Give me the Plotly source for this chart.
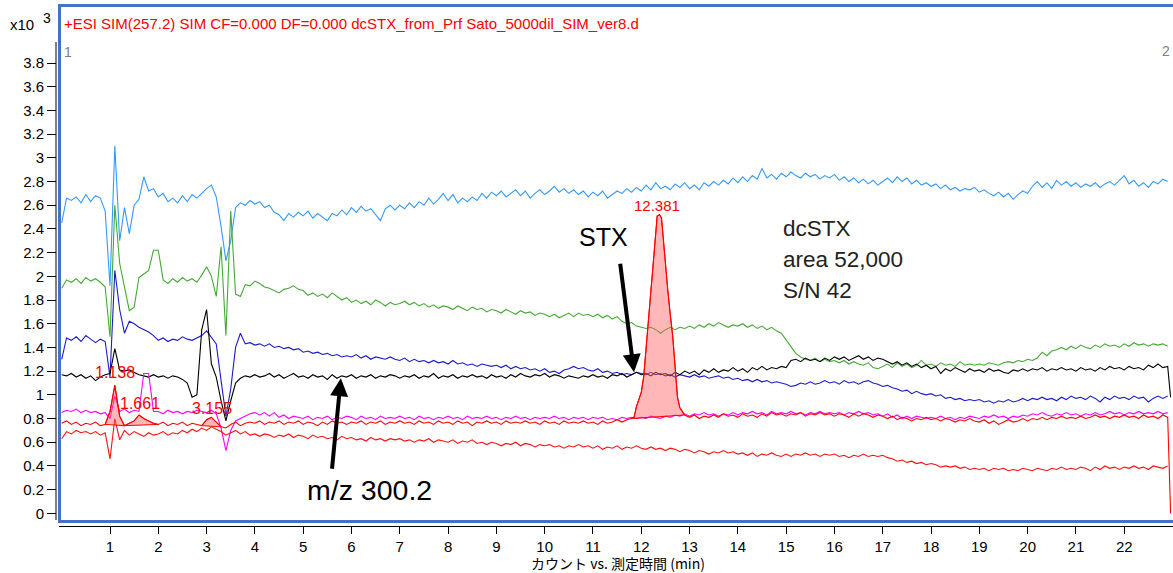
import numpy as np
import plotly.graph_objects as go

# ---------------- data (counts x10^3 vs. acquisition time, min) ----------------
t_step = 0.1
n_pts = 230          # 0.0 ... 22.9 min
t_end = 22.96        # last acquired point (trace end)

light_blue = [
    2.45, 2.66, 2.64, 2.67, 2.62, 2.69, 2.63, 2.68, 2.66, 2.55,
    1.92, 3.10, 2.30, 2.58, 2.36, 2.60, 2.65, 2.84, 2.72, 2.74,
    2.67, 2.70, 2.63, 2.66, 2.62, 2.68, 2.63, 2.69, 2.66, 2.70,
    2.74, 2.77, 2.67, 2.42, 2.13, 2.30, 2.58, 2.62, 2.60, 2.64,
    2.61, 2.63, 2.58, 2.60, 2.54, 2.52, 2.47, 2.53, 2.50, 2.54,
    2.51, 2.55, 2.49, 2.53, 2.50, 2.47, 2.53, 2.51, 2.56, 2.52,
    2.58, 2.54, 2.59, 2.55, 2.57, 2.52, 2.47, 2.57, 2.60, 2.56,
    2.60, 2.57, 2.62, 2.58, 2.63, 2.60, 2.66, 2.61, 2.65, 2.70,
    2.64, 2.69, 2.62, 2.66, 2.63, 2.67, 2.64, 2.70, 2.66, 2.71,
    2.68, 2.72, 2.67, 2.70, 2.73, 2.68, 2.72, 2.66, 2.70, 2.73,
    2.69, 2.72, 2.76, 2.71, 2.74, 2.70, 2.73, 2.69, 2.72, 2.67,
    2.71, 2.68, 2.72, 2.66, 2.69, 2.72, 2.70, 2.74, 2.71, 2.75,
    2.72, 2.77, 2.73, 2.79, 2.74, 2.76, 2.73, 2.78, 2.75, 2.79,
    2.74, 2.77, 2.73, 2.79, 2.76, 2.80, 2.77, 2.81, 2.78, 2.83,
    2.79, 2.84, 2.80, 2.85, 2.82, 2.91, 2.83, 2.86, 2.82, 2.87,
    2.84, 2.88, 2.85, 2.83, 2.87, 2.84, 2.86, 2.82, 2.85, 2.83,
    2.86, 2.81, 2.84, 2.80, 2.83, 2.79, 2.82, 2.78, 2.81, 2.77,
    2.80, 2.83, 2.79, 2.84, 2.80, 2.83, 2.78, 2.81, 2.77, 2.79,
    2.76, 2.78, 2.74, 2.77, 2.73, 2.75, 2.72, 2.74, 2.73, 2.75,
    2.71, 2.73, 2.70, 2.68, 2.71, 2.67, 2.70, 2.65, 2.69, 2.72,
    2.70, 2.76, 2.80, 2.75, 2.79, 2.74, 2.81, 2.77, 2.80, 2.76,
    2.79, 2.75, 2.78, 2.76, 2.79, 2.75, 2.78, 2.80, 2.77, 2.81,
    2.85, 2.78, 2.81, 2.76, 2.79, 2.75, 2.80, 2.78, 2.82, 2.80,
]

green = [
    1.90, 1.97, 1.95, 1.98, 1.94, 1.99, 1.96, 1.98, 1.95, 1.91,
    1.49, 2.60, 2.11, 1.90, 1.71, 1.74, 1.99, 2.02, 2.05, 2.22,
    2.22, 1.97, 1.94, 1.98, 1.95, 1.99, 1.96, 1.98, 1.95, 2.01,
    2.08, 2.00, 1.83, 2.25, 1.50, 2.55, 1.85, 1.83, 1.93, 1.92,
    1.96, 1.94, 1.91, 1.90, 1.88, 1.86, 1.89, 1.90, 1.92, 1.89,
    1.88, 1.84, 1.86, 1.83, 1.85, 1.82, 1.86, 1.83, 1.80, 1.82,
    1.78, 1.80, 1.77, 1.79, 1.76, 1.80, 1.78, 1.75, 1.78, 1.76,
    1.77, 1.79, 1.76, 1.78, 1.75, 1.77, 1.74, 1.76, 1.73, 1.75,
    1.74, 1.72, 1.75, 1.73, 1.71, 1.74, 1.72, 1.73, 1.70, 1.72,
    1.71, 1.69, 1.72, 1.70, 1.68, 1.71, 1.69, 1.70, 1.67, 1.69,
    1.68, 1.66, 1.68, 1.65, 1.67, 1.69, 1.66, 1.69, 1.67, 1.68,
    1.66, 1.68, 1.65, 1.67, 1.64, 1.66, 1.62, 1.60, 1.61, 1.58,
    1.57, 1.56, 1.57, 1.55, 1.52, 1.55, 1.57, 1.55, 1.57, 1.56,
    1.58, 1.56, 1.59, 1.57, 1.60, 1.58, 1.61, 1.59, 1.57, 1.59,
    1.58, 1.60, 1.57, 1.59, 1.56, 1.58, 1.55, 1.57, 1.54, 1.52,
    1.46, 1.40, 1.35, 1.32, 1.30, 1.29, 1.31, 1.28, 1.30, 1.28,
    1.29, 1.27, 1.29, 1.26, 1.28, 1.26, 1.25, 1.27, 1.23, 1.22,
    1.24, 1.26, 1.23, 1.27, 1.24, 1.26, 1.23, 1.25, 1.29, 1.25,
    1.26, 1.24, 1.27, 1.25, 1.26, 1.24, 1.28, 1.25, 1.26, 1.25,
    1.26, 1.25, 1.27, 1.26, 1.25, 1.27, 1.28, 1.27, 1.29, 1.28,
    1.30, 1.29, 1.31, 1.36, 1.33, 1.37, 1.38, 1.40, 1.38, 1.41,
    1.39, 1.42, 1.40, 1.39, 1.42, 1.40, 1.43, 1.41, 1.42, 1.40,
    1.43, 1.41, 1.44, 1.42, 1.43, 1.41, 1.43, 1.42, 1.43, 1.41,
]

blue = [
    1.30, 1.48, 1.46, 1.49, 1.45, 1.50, 1.47, 1.44, 1.47, 1.45,
    1.15, 2.05, 1.72, 1.52, 1.62, 1.60, 1.57, 1.55, 1.53, 1.50,
    1.46, 1.48, 1.45, 1.47, 1.46, 1.49, 1.47, 1.46, 1.48, 1.50,
    1.54, 1.48, 1.43, 1.12, 0.82, 1.05, 1.40, 1.52, 1.43, 1.44,
    1.42, 1.43, 1.41, 1.43, 1.40, 1.41, 1.39, 1.40, 1.38, 1.39,
    1.36, 1.37, 1.35, 1.36, 1.34, 1.35, 1.33, 1.34, 1.32, 1.33,
    1.32, 1.34, 1.31, 1.33, 1.30, 1.32, 1.31, 1.30, 1.32, 1.30,
    1.29, 1.31, 1.28, 1.30, 1.28, 1.29, 1.27, 1.29, 1.27, 1.28,
    1.26, 1.29, 1.26, 1.27, 1.25, 1.26, 1.24, 1.26, 1.25, 1.24,
    1.25, 1.23, 1.25, 1.22, 1.24, 1.22, 1.23, 1.21, 1.22, 1.20,
    1.22, 1.19, 1.20, 1.18, 1.21, 1.22, 1.24, 1.22, 1.23, 1.21,
    1.20, 1.22, 1.19, 1.20, 1.18, 1.19, 1.17, 1.18, 1.17, 1.19,
    1.18, 1.17, 1.19, 1.17, 1.18, 1.16, 1.17, 1.15, 1.17, 1.16,
    1.15, 1.17, 1.15, 1.16, 1.14, 1.15, 1.16, 1.14, 1.15, 1.13,
    1.14, 1.12, 1.13, 1.11, 1.13, 1.11, 1.12, 1.10, 1.11, 1.10,
    1.09, 1.07, 1.08, 1.10, 1.09, 1.11, 1.09, 1.10, 1.12, 1.10,
    1.11, 1.09, 1.12, 1.10, 1.11, 1.09, 1.11, 1.12, 1.10, 1.09,
    1.07, 1.08, 1.06, 1.05, 1.03, 1.04, 1.01, 1.03, 1.01, 1.00,
    1.01, 0.99, 1.00, 0.97, 0.98, 0.96, 0.97, 0.95, 0.96, 0.95,
    0.96, 0.94, 0.95, 0.93, 0.95, 0.94, 0.96, 0.94, 0.95, 0.97,
    0.95, 0.97, 0.96, 0.98, 0.96, 0.97, 0.95, 0.98, 0.96, 0.99,
    0.97, 0.98, 0.96, 0.99, 0.97, 0.94, 0.98, 0.96, 0.99, 0.97,
    0.98, 0.96, 0.99, 0.97, 0.98, 0.94, 0.97, 0.99, 0.97, 0.99,
]

black = [
    1.17, 1.16, 1.18, 1.15, 1.17, 1.14, 1.16, 1.12, 1.15, 1.17,
    1.18, 1.39, 1.21, 1.20, 1.21, 1.19, 1.17, 1.16, 1.15, 1.17,
    1.15, 1.16, 1.14, 1.16, 1.15, 1.13, 1.10, 0.98, 1.00, 1.55,
    1.72, 1.26, 1.15, 0.95, 0.78, 0.95, 1.10, 1.14, 1.16, 1.15,
    1.17, 1.15, 1.16, 1.18, 1.15, 1.17, 1.14, 1.16, 1.18, 1.15,
    1.16, 1.14, 1.17, 1.15, 1.16, 1.13, 1.17, 1.14, 1.16, 1.15,
    1.17, 1.14, 1.16, 1.15, 1.17, 1.14, 1.16, 1.15, 1.17, 1.16,
    1.14, 1.16, 1.15, 1.17, 1.14, 1.16, 1.15, 1.18, 1.14, 1.16,
    1.15, 1.17, 1.14, 1.16, 1.15, 1.17, 1.15, 1.16, 1.14, 1.17,
    1.15, 1.16, 1.14, 1.17, 1.15, 1.18, 1.16, 1.15, 1.17, 1.16,
    1.18, 1.15, 1.17, 1.16, 1.14, 1.16, 1.15, 1.14, 1.16, 1.15,
    1.17, 1.15, 1.16, 1.14, 1.17, 1.16, 1.18, 1.15, 1.17, 1.19,
    1.17, 1.18, 1.16, 1.19, 1.17, 1.18, 1.16, 1.19, 1.17, 1.20,
    1.18, 1.20, 1.17, 1.21, 1.19, 1.22, 1.19, 1.21, 1.20, 1.23,
    1.20, 1.22, 1.19, 1.23, 1.21, 1.24, 1.21, 1.23, 1.22, 1.24,
    1.23, 1.29, 1.30, 1.28, 1.31, 1.29, 1.30, 1.28, 1.31, 1.29,
    1.32, 1.30, 1.32, 1.29, 1.31, 1.33, 1.30, 1.32, 1.29, 1.31,
    1.30, 1.28, 1.26, 1.28, 1.25, 1.27, 1.24, 1.26, 1.23, 1.25,
    1.22, 1.24, 1.18, 1.22, 1.20, 1.23, 1.21, 1.19, 1.22, 1.20,
    1.21, 1.19, 1.22, 1.20, 1.21, 1.19, 1.18, 1.21, 1.20, 1.22,
    1.20, 1.22, 1.21, 1.23, 1.20, 1.22, 1.21, 1.23, 1.21, 1.22,
    1.20, 1.23, 1.21, 1.22, 1.20, 1.23, 1.21, 1.24, 1.22, 1.23,
    1.21, 1.24, 1.22, 1.23, 1.21, 1.25, 1.23, 1.26, 1.23, 1.24,
]
black_end = 0.98

magenta = [
    0.85, 0.87, 0.86, 0.88, 0.85, 0.87, 0.85, 0.86, 0.84, 0.85,
    0.80, 0.99, 0.86, 0.88, 0.85, 0.87, 0.86, 1.18, 1.18, 0.86,
    0.86, 0.84, 0.87, 0.85, 0.86, 0.84, 0.86, 0.85, 0.87, 0.86,
    0.85, 0.87, 0.84, 0.72, 0.53, 0.70, 0.78, 0.80, 0.82, 0.84,
    0.85, 0.83, 0.85, 0.82, 0.85, 0.81, 0.83, 0.80, 0.82, 0.81,
    0.80, 0.82, 0.79, 0.81, 0.80, 0.82, 0.79, 0.81, 0.80, 0.82,
    0.81, 0.79, 0.82, 0.80, 0.81, 0.79, 0.82, 0.80, 0.81, 0.80,
    0.82, 0.80, 0.81, 0.79, 0.82, 0.80, 0.81, 0.79, 0.81, 0.80,
    0.82, 0.80, 0.81, 0.79, 0.82, 0.80, 0.81, 0.80, 0.82, 0.80,
    0.81, 0.79, 0.81, 0.80, 0.82, 0.80, 0.81, 0.79, 0.81, 0.80,
    0.81, 0.80, 0.82, 0.80, 0.81, 0.79, 0.81, 0.80, 0.81, 0.79,
    0.81, 0.80, 0.81, 0.79, 0.80, 0.79, 0.81, 0.80, 0.81, 0.80,
    0.81, 0.80, 0.82, 0.81, 0.80, 0.82, 0.81, 0.83, 0.82, 0.84,
    0.82, 0.84, 0.83, 0.85, 0.83, 0.84, 0.82, 0.84, 0.83, 0.85,
    0.83, 0.85, 0.84, 0.86, 0.84, 0.85, 0.83, 0.86, 0.84, 0.85,
    0.84, 0.86, 0.84, 0.85, 0.83, 0.85, 0.84, 0.86, 0.84, 0.85,
    0.84, 0.85, 0.83, 0.85, 0.84, 0.86, 0.84, 0.85, 0.83, 0.84,
    0.82, 0.84, 0.81, 0.83, 0.80, 0.82, 0.80, 0.82, 0.81, 0.80,
    0.81, 0.80, 0.82, 0.80, 0.81, 0.79, 0.81, 0.80, 0.82, 0.81,
    0.80, 0.82, 0.81, 0.83, 0.81, 0.82, 0.80, 0.82, 0.81, 0.83,
    0.82, 0.84, 0.83, 0.85, 0.83, 0.82, 0.84, 0.83, 0.85, 0.83,
    0.84, 0.82, 0.84, 0.83, 0.85, 0.83, 0.84, 0.86, 0.84, 0.85,
    0.83, 0.85, 0.84, 0.86, 0.84, 0.85, 0.84, 0.86, 0.84, 0.85,
]

# SIM(257.2) trace (integrated peaks)
red_sim = [
    0.76, 0.78, 0.75, 0.77, 0.74, 0.76, 0.75, 0.77, 0.74, 0.75,
    0.86, 1.08, 0.82, 0.74, 0.76, 0.78, 0.83, 0.80, 0.78, 0.76,
    0.75, 0.77, 0.74, 0.76, 0.75, 0.77, 0.74, 0.76, 0.75, 0.74,
    0.79, 0.81, 0.77, 0.73, 0.72, 0.75, 0.77, 0.74, 0.76, 0.77,
    0.76, 0.78, 0.75, 0.77, 0.76, 0.78, 0.75, 0.77, 0.76, 0.78,
    0.75, 0.77, 0.76, 0.74, 0.77, 0.75, 0.78, 0.76, 0.77, 0.75,
    0.77, 0.76, 0.78, 0.75, 0.77, 0.76, 0.78, 0.75, 0.77, 0.76,
    0.78, 0.76, 0.77, 0.75, 0.78, 0.76, 0.77, 0.75, 0.78, 0.76,
    0.77, 0.75, 0.78, 0.76, 0.77, 0.74, 0.77, 0.76, 0.78, 0.76,
    0.77, 0.75, 0.78, 0.76, 0.77, 0.76, 0.78, 0.76, 0.77, 0.75,
    0.78, 0.76, 0.77, 0.75, 0.78, 0.76, 0.77, 0.76, 0.78, 0.76,
    0.77, 0.75, 0.78, 0.76, 0.77, 0.79, 0.77, 0.79, 0.80, 0.90,
    1.02, 1.40, 1.85, 2.38, 2.51, 2.10, 1.68, 1.24, 0.89, 0.83,
    0.81, 0.83, 0.80, 0.82, 0.81, 0.83, 0.81, 0.84, 0.82, 0.83,
    0.81, 0.84, 0.82, 0.83, 0.81, 0.84, 0.82, 0.85, 0.83, 0.84,
    0.82, 0.84, 0.83, 0.85, 0.82, 0.84, 0.83, 0.85, 0.83, 0.84,
    0.82, 0.84, 0.83, 0.81, 0.84, 0.82, 0.84, 0.83, 0.81, 0.83,
    0.82, 0.80, 0.82, 0.79, 0.81, 0.80, 0.78, 0.80, 0.79, 0.81,
    0.79, 0.80, 0.78, 0.80, 0.79, 0.77, 0.79, 0.78, 0.80, 0.78,
    0.77, 0.79, 0.76, 0.78, 0.75, 0.77, 0.79, 0.77, 0.78, 0.80,
    0.78, 0.80, 0.79, 0.81, 0.79, 0.81, 0.80, 0.82, 0.80, 0.81,
    0.80, 0.82, 0.80, 0.81, 0.83, 0.81, 0.82, 0.80, 0.82, 0.81,
    0.83, 0.81, 0.82, 0.80, 0.83, 0.81, 0.82, 0.80, 0.83, 0.81,
]
red_sim_end = 0.0

# finer sampling across the dcSTX peak (12.381 min)
peak12_t = [11.80, 11.85, 11.90, 11.95, 12.00, 12.05, 12.10, 12.15, 12.20, 12.25,
            12.30, 12.33, 12.38, 12.42, 12.46, 12.50, 12.55, 12.60, 12.65, 12.70,
            12.75, 12.80, 12.85, 12.90]
peak12_y = [0.80, 0.81, 0.90, 0.97, 1.02, 1.15, 1.40, 1.60, 1.85, 2.13,
            2.38, 2.51, 2.52, 2.49, 2.30, 2.10, 1.88, 1.68, 1.50, 1.24,
            0.98, 0.89, 0.86, 0.83]

# integration windows of the small peaks (min) and their labels
small_peak_windows = [(0.9, 1.3), (1.3, 2.0), (2.9, 3.3)]
peak_labels = ["1.138", "1.661", "3.155", "12.381"]

red_low = [
    0.63, 0.69, 0.67, 0.70, 0.68, 0.69, 0.67, 0.69, 0.66, 0.68,
    0.46, 0.80, 0.62, 0.70, 0.66, 0.69, 0.67, 0.65, 0.68, 0.66,
    0.67, 0.69, 0.66, 0.68, 0.67, 0.70, 0.68, 0.71, 0.69, 0.72,
    0.70, 0.73, 0.71, 0.69, 0.66, 0.68, 0.70, 0.67, 0.69, 0.66,
    0.67, 0.65, 0.67, 0.66, 0.64, 0.66, 0.65, 0.67, 0.64, 0.66,
    0.65, 0.63, 0.66, 0.64, 0.65, 0.63, 0.64, 0.62, 0.65, 0.63,
    0.64, 0.62, 0.63, 0.61, 0.64, 0.62, 0.63, 0.61, 0.63, 0.62,
    0.63, 0.61, 0.62, 0.60, 0.62, 0.61, 0.63, 0.60, 0.62, 0.61,
    0.60, 0.62, 0.59, 0.61, 0.60, 0.62, 0.59, 0.60, 0.58, 0.60,
    0.59, 0.57, 0.59, 0.58, 0.60, 0.57, 0.59, 0.58, 0.56, 0.58,
    0.57, 0.58, 0.56, 0.57, 0.55, 0.57, 0.56, 0.58, 0.56, 0.57,
    0.55, 0.57, 0.54, 0.56, 0.55, 0.57, 0.54, 0.56, 0.55, 0.57,
    0.55, 0.54, 0.56, 0.54, 0.55, 0.53, 0.55, 0.54, 0.52, 0.54,
    0.53, 0.51, 0.53, 0.52, 0.50, 0.52, 0.51, 0.53, 0.51, 0.52,
    0.50, 0.51, 0.49, 0.51, 0.48, 0.50, 0.49, 0.51, 0.49, 0.48,
    0.50, 0.48, 0.50, 0.49, 0.51, 0.49, 0.50, 0.48, 0.50, 0.49,
    0.50, 0.48, 0.49, 0.47, 0.49, 0.48, 0.50, 0.48, 0.49, 0.48,
    0.49, 0.47, 0.46, 0.44, 0.45, 0.43, 0.44, 0.42, 0.43, 0.41,
    0.42, 0.41, 0.39, 0.40, 0.39, 0.40, 0.38, 0.39, 0.37, 0.38,
    0.37, 0.38, 0.36, 0.38, 0.37, 0.38, 0.36, 0.37, 0.36, 0.38,
    0.37, 0.36, 0.38, 0.37, 0.36, 0.38, 0.37, 0.39, 0.37, 0.38,
    0.37, 0.39, 0.38, 0.36, 0.39, 0.37, 0.40, 0.38, 0.39, 0.37,
    0.39, 0.38, 0.40, 0.38, 0.39, 0.37, 0.40, 0.39, 0.38, 0.40,
]

x_ticks = list(range(1, 23))
y_ticks = [0, 0.2, 0.4, 0.6, 0.8, 1, 1.2, 1.4, 1.6, 1.8, 2, 2.2, 2.4, 2.6,
           2.8, 3, 3.2, 3.4, 3.6, 3.8]
y_tick_text = ["0", "0.2", "0.4", "0.6", "0.8", "1", "1.2", "1.4", "1.6", "1.8",
               "2", "2.2", "2.4", "2.6", "2.8", "3", "3.2", "3.4", "3.6", "3.8"]

title_text = "+ESI SIM(257.2) SIM CF=0.000 DF=0.000 dcSTX_from_Prf Sato_5000dil_SIM_ver8.d"
x_title = "カウント vs. 測定時間 (min)"

# ---------------- figure ----------------
t = np.round(np.arange(n_pts) * t_step, 2)

W, H = 1173, 573
ML, MR, MT, MB = 56, 0, 6, 47
PW, PH = W - ML - MR, H - MT - MB


def px(xp):
    return (xp - ML) / PW


def py(yp):
    return (H - MB - yp) / PH


FONT = "Liberation Sans, Arial, sans-serif"
fig = go.Figure()


def add_line(x, y, color, width=1.1):
    fig.add_trace(go.Scatter(x=x, y=y, mode="lines", hoverinfo="skip",
                             line=dict(color=color, width=width)))


add_line(t, light_blue, "#3399ff")
add_line(t, green, "#44aa33")
add_line(t, blue, "#1a1acc")
add_line(list(t) + [t_end], list(black) + [black_end], "#000000")
add_line(t, magenta, "#ff00ff")
add_line(t, red_low, "#ff1010")

# SIM trace: grid points outside the fine peak window + fine peak points
sim_x, sim_y = [], []
for ti, yi in zip(t, red_sim):
    if ti < peak12_t[0] - 1e-9:
        sim_x.append(ti); sim_y.append(yi)
sim_x += peak12_t; sim_y += peak12_y
for ti, yi in zip(t, red_sim):
    if ti > peak12_t[-1] + 1e-9:
        sim_x.append(ti); sim_y.append(yi)
sim_x.append(t_end); sim_y.append(red_sim_end)

FILL = "rgba(255,95,95,0.45)"

# integrated peak areas (curve + straight baseline)
for a, b in small_peak_windows:
    xs = [ti for ti in t if a - 1e-9 <= ti <= b + 1e-9]
    ys = [yi for ti, yi in zip(t, red_sim) if a - 1e-9 <= ti <= b + 1e-9]
    fig.add_trace(go.Scatter(x=xs + [xs[-1], xs[0]], y=ys + [ys[-1], ys[0]],
                             mode="lines", fill="toself", fillcolor=FILL,
                             line=dict(color="#ff0000", width=1), hoverinfo="skip"))
fig.add_trace(go.Scatter(x=peak12_t + [peak12_t[-1], peak12_t[0]],
                         y=peak12_y + [peak12_y[-1], peak12_y[0]],
                         mode="lines", fill="toself", fillcolor=FILL,
                         line=dict(color="#ff0000", width=1), hoverinfo="skip"))
add_line(sim_x, sim_y, "#ff0000")

ann = []
# peak labels
label_pos = [(115, 373, 16), (140, 403, 16), (212, 408, 16), (657, 205, 15)]
for txt, (xp, yp, fs) in zip(peak_labels, label_pos):
    ann.append(dict(x=px(xp), y=py(yp), xref="paper", yref="paper", text=txt,
                    showarrow=False, font=dict(family=FONT, size=fs, color="#ff0000"),
                    xanchor="center", yanchor="middle"))

ann += [
    dict(x=px(8), y=py(25), text="x10", font=dict(family=FONT, size=15, color="#000")),
    dict(x=px(41), y=py(18), text="3", font=dict(family=FONT, size=14, color="#000")),
    dict(x=px(62), y=py(24), text=title_text, font=dict(family=FONT, size=15, color="#ff0000")),
    dict(x=px(62), y=py(52), text="1", font=dict(family=FONT, size=14, color="#808080")),
    dict(x=px(1160), y=py(51), text="2", font=dict(family=FONT, size=14, color="#808080")),
    dict(x=px(577), y=py(237), text="STX", font=dict(family=FONT, size=25, color="#000")),
    dict(x=px(305), y=py(490), text="m/z 300.2", font=dict(family=FONT, size=28.5, color="#000")),
    dict(x=px(781), y=py(228), text="dcSTX", font=dict(family=FONT, size=22.5, color="#222")),
    dict(x=px(781), y=py(259), text="area 52,000", font=dict(family=FONT, size=22.5, color="#222")),
    dict(x=px(781), y=py(290), text="S/N 42", font=dict(family=FONT, size=22.5, color="#222")),
]
for a_ in ann[len(peak_labels):]:
    a_.update(xref="paper", yref="paper", showarrow=False, xanchor="left", yanchor="middle")

ann.append(dict(x=px(618), y=py(563), xref="paper", yref="paper", text=x_title,
                showarrow=False, xanchor="center", yanchor="middle",
                font=dict(family="Noto Sans CJK JP, sans-serif", size=14, color="#000")))

# arrows (STX and m/z 300.2)
ann.append(dict(x=11.85, y=1.19, xref="x", yref="y", text="", showarrow=True,
                ax=-14, ay=-110, arrowhead=2, arrowsize=0.9, arrowwidth=4,
                arrowcolor="#000"))
ann.append(dict(x=5.78, y=1.14, xref="x", yref="y", text="", showarrow=True,
                ax=-9, ay=92, arrowhead=2, arrowsize=0.9, arrowwidth=4,
                arrowcolor="#000"))

shapes = [
    dict(type="rect", xref="paper", yref="paper", x0=px(59.5), x1=px(1174.5),
         y0=py(521.5), y1=py(5.5), line=dict(color="#4472c4", width=3), layer="above"),
    dict(type="line", xref="paper", yref="paper", x0=0, x1=0, y0=py(520), y1=py(42),
         line=dict(color="#000", width=1)),
]

fig.update_layout(
    width=W, height=H, margin=dict(l=ML, r=MR, t=MT, b=MB),
    paper_bgcolor="white", plot_bgcolor="white", showlegend=False,
    annotations=ann, shapes=shapes,
    xaxis=dict(domain=[px(59), 1], range=[-0.056, 23.01], anchor="free", position=0,
               tickvals=x_ticks, ticks="outside", ticklen=7, tickcolor="#000",
               showline=True, linecolor="#000", linewidth=1, showgrid=False,
               zeroline=False, tickfont=dict(family=FONT, size=15, color="#000")),
    yaxis=dict(domain=[py(522), 1], range=[-0.073, 4.281], anchor="free", position=0,
               tickvals=y_ticks, ticktext=y_tick_text, ticks="outside", ticklen=9,
               tickcolor="#000", showline=False, showgrid=False, zeroline=False,
               tickfont=dict(family=FONT, size=15, color="#000")),
)

fig.write_html("out.html", config={"displayModeBar": False},
               post_script="document.body.style.margin='0px';document.body.style.overflow='hidden';")
